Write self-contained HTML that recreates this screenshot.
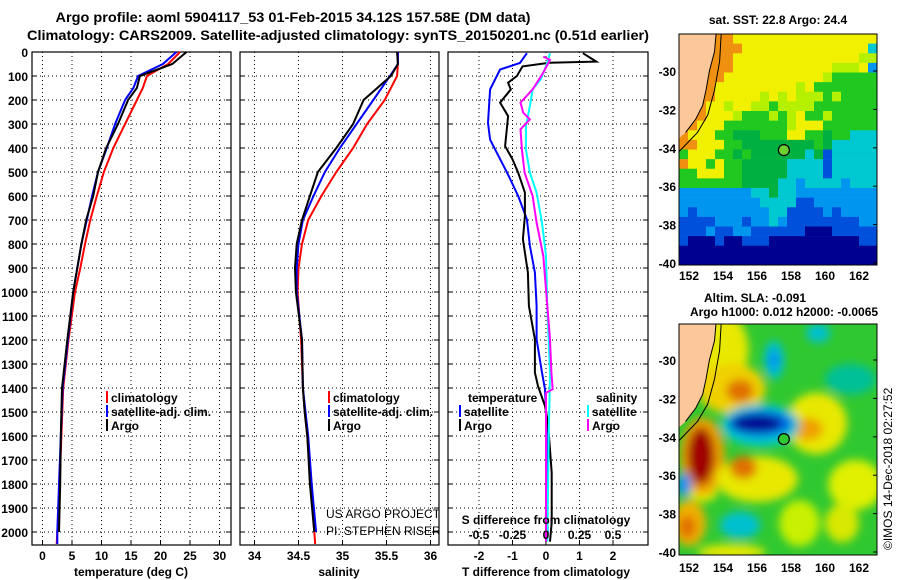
<!DOCTYPE html>
<html><head><meta charset="utf-8"><style>
html,body{margin:0;padding:0;background:#fff;}
svg{display:block;font-family:"Liberation Sans",sans-serif;}
.b{font-weight:bold;font-size:12px;}
</style></head><body>
<svg id="fig" width="900" height="580" viewBox="0 0 900 580">
<defs>
<filter id="blur" x="-50%" y="-50%" width="200%" height="200%"><feGaussianBlur stdDeviation="4.5"/></filter>
<clipPath id="clipSST"><rect x="679" y="34" width="198" height="231"/></clipPath>
<clipPath id="clipSLA"><rect x="679" y="324" width="198" height="231"/></clipPath>
<clipPath id="clipP2"><rect x="240" y="52" width="199" height="493"/></clipPath>
</defs>
<text x="293" y="22" text-anchor="middle" font-size="14" font-weight="bold" textLength="475" lengthAdjust="spacingAndGlyphs">Argo profile: aoml 5904117_53 01-Feb-2015 34.12S 157.58E (DM data)</text>
<text x="338" y="40" text-anchor="middle" font-size="14" font-weight="bold" textLength="622" lengthAdjust="spacingAndGlyphs">Climatology: CARS2009. Satellite-adjusted climatology: synTS_20150201.nc (0.51d earlier)</text>
<g id="axes"></g>
<g id="maps"></g>
<text transform="translate(892,550) rotate(-90)" font-size="12">©IMOS 14-Dec-2018 02:27:52</text>
</svg>
<script>
// ---- data ----
const tDepth = [0,50,100,150,200,300,400,500,600,700,800,900,1000,1200,1400,1600,1800,2000,2050];
const tClim  = [23.3,21.3,17.7,17.0,16.0,14.0,12.0,10.4,9.2,8.1,7.2,6.4,5.5,4.4,3.5,3.2,2.9,2.5,2.4];
const tSat   = [22.7,20.4,16.2,15.4,14.0,12.3,10.9,9.4,8.4,7.5,6.6,5.9,5.2,4.3,3.4,3.1,2.8,2.5,2.5];
const tArgo  = [24.4,22.0,16.5,16.0,14.5,12.8,10.8,9.4,8.6,7.4,6.6,5.9,5.2,4.2,3.3,3.1,3.0,2.8];
const sDepth = [0,50,100,200,300,400,500,600,700,800,900,1000,1200,1400,1500,1600,1800,2000,2050];
const sClim  = [35.63,35.63,35.62,35.48,35.28,35.12,34.93,34.76,34.61,34.54,34.50,34.49,34.53,34.55,34.57,34.60,34.64,34.68,34.69];
const sSat   = [35.63,35.63,35.54,35.35,35.16,34.97,34.80,34.67,34.55,34.50,34.48,34.48,34.54,34.55,34.58,34.61,34.65,34.70];
const sArgo  = [35.62,35.63,35.55,35.24,35.12,34.93,34.72,34.63,34.54,34.48,34.46,34.47,34.54,34.55,34.57,34.60,34.63,34.68];
const dtDepthSat = [5,46,73,156,295,365,406,503,600,697,808,919,1058,1197,1336,1405,1544,1753,2000];
const dtSat      = [-0.57,-0.78,-1.37,-1.67,-1.73,-1.67,-1.52,-1.16,-0.83,-0.57,-0.48,-0.33,-0.28,-0.28,-0.12,-0.03,0.02,0.03,0.05];
const dtDepthArgo = [5,40,45,60,100,128,156,211,267,309,392,447,503,586,683,780,919,1058,1197,1336,1392,1475,1544,1753,1961,2040];
const dtArgo      = [1.1,1.5,0.1,-0.7,-0.87,-1.13,-1.05,-1.37,-1.13,-1.16,-1.22,-1.0,-0.83,-0.63,-0.63,-0.69,-0.54,-0.51,-0.33,-0.33,-0.24,-0.03,0.06,0.17,0.17,0.12];
const dsDepthSat = [5,60,114,156,225,309,406,503,586,711,850,1058,1336,1614,2040];
const dsSat      = [0.03,0.0,-0.04,-0.10,-0.12,-0.15,-0.15,-0.12,-0.07,-0.03,0.0,0.01,0.03,0.02,0.01];
const dsDepthArgo = [19,33,86,156,211,253,281,322,406,503,600,711,850,989,1197,1336,1405,1420,1614,1961,2040];
const dsArgo      = [-0.02,0.03,-0.02,-0.10,-0.19,-0.17,-0.12,-0.19,-0.18,-0.16,-0.10,-0.07,-0.02,0.0,0.03,0.04,0.05,0.0,0.0,0.0,0.0];
const depthTicks = [0,100,200,300,400,500,600,700,800,900,1000,1100,1200,1300,1400,1500,1600,1700,1800,1900,2000];
const tTicks = [0,5,10,15,20,25,30];
const sTicks = [34,34.5,35,35.5,36];
const dtTicks = [-2,-1,0,1,2];
const dsTicks = [-0.5,-0.25,0,0.25,0.5];
const latTicks = [-30,-32,-34,-36,-38,-40];
const lonTicks = [152,154,156,158,160,162];
const floatPos = [157.58,-34.12];

const NS="http://www.w3.org/2000/svg";
function mk(tag,attrs,parent,text){const e=document.createElementNS(NS,tag);for(const k in attrs)e.setAttribute(k,attrs[k]);if(text!==undefined)e.textContent=text;parent.appendChild(e);return e;}
const axes=document.getElementById('axes');
const Y=d=>52+d*0.24;
const TOP=52,BOT=545;
const xT=v=>42.5+v*5.9;
const xS=v=>254.5+(v-34)*88;
const xDT=v=>546+v*33.5;
const xDS=v=>546+v*134;

function panel(x0,x1,name,xs,ticks,labels,title,tx){
  const g=mk('g',{},axes);
  
  
  depthTicks.forEach(d=>{const l=mk('line',{x1:x0,x2:x1,y1:Y(d),y2:Y(d),stroke:'#000','stroke-dasharray':'1,3','stroke-width':1},g);
    
    mk('line',{x1:x0,x2:x0+5,y1:Y(d),y2:Y(d),stroke:'#000'},g);mk('line',{x1:x1-5,x2:x1,y1:Y(d),y2:Y(d),stroke:'#000'},g);});
  ticks.forEach((t,i)=>{const x=xs(t);
    const l=mk('line',{x1:x,x2:x,y1:TOP,y2:BOT,stroke:'#000','stroke-dasharray':'1,3'},g);
    
    mk('line',{x1:x,x2:x,y1:BOT-5,y2:BOT,stroke:'#000'},g);
    const tl=mk('text',{x:x,y:560,'text-anchor':'middle',class:'b'},g,labels[i]);
    });
  const r=mk('rect',{x:x0,y:TOP,width:x1-x0,height:BOT-TOP,fill:'none',stroke:'#000','stroke-width':1.2},g);
  
  const tt=mk('text',{x:tx,y:576,'text-anchor':'middle',class:'b'},g,title);
  
  return g;
}
function line(g,xs,depths,vals,color,name,clip){
  const pts=vals.map((v,i)=>xs(v).toFixed(1)+','+Y(depths[i]).toFixed(1)).join(' ');
  const p=mk('polyline',{points:pts,fill:'none',stroke:color,'stroke-width':2},g);
  if(clip)p.setAttribute('clip-path',clip);
  
  
}
function legend(g,x,y,color,label){
  mk('rect',{x:x,y:y-11,width:2,height:12,fill:color},g);
  const t=mk('text',{x:x+5,y:y,class:'b'},g,label);
  
  
}
depthTicks.forEach(d=>{const t=mk('text',{x:28,y:Y(d)+5,'text-anchor':'end',class:'b'},axes,String(d));
  });

const g1=panel(32,231,'temperature-panel',xT,tTicks,tTicks.map(String),'temperature (deg C)',131);
line(g1,xT,tDepth,tClim,'#f00','climatology-temperature-line');
line(g1,xT,tDepth,tSat,'#00f','satellite-temperature-line');
line(g1,xT,tDepth.slice(0,tArgo.length),tArgo,'#000','argo-temperature-line');
legend(g1,106,402,'#f00','climatology');legend(g1,106,416,'#00f','satellite-adj. clim.');legend(g1,106,430,'#000','Argo');

const g2=panel(240,439,'salinity-panel',xS,sTicks,['34','34.5','35','35.5','36'],'salinity',339);
line(g2,xS,sDepth,sClim,'#f00','climatology-salinity-line');
line(g2,xS,sDepth,sSat,'#00f','satellite-salinity-line');
line(g2,xS,sDepth.slice(0,sArgo.length),sArgo,'#000','argo-salinity-line');
legend(g2,328,402,'#f00','climatology');legend(g2,328,416,'#00f','satellite-adj. clim.');legend(g2,328,430,'#000','Argo');
const c1=mk('text',{x:326,y:518,'font-size':12,'clip-path':'url(#clipP2)'},g2,'US ARGO PROJECT');

const c2=mk('text',{x:326,y:535,'font-size':12,'clip-path':'url(#clipP2)'},g2,'PI: STEPHEN RISER');


const g3=panel(448,648,'difference-panel',xDT,dtTicks,dtTicks.map(String),'T difference from climatology',546);
line(g3,xDT,dtDepthSat,dtSat,'#00f','satellite-temperature-difference-line');
line(g3,xDT,dtDepthArgo,dtArgo,'#000','argo-temperature-difference-line');
line(g3,xDS,dsDepthSat,dsSat,'#0ff','satellite-salinity-difference-line');
line(g3,xDS,dsDepthArgo,dsArgo,'#f0f','argo-salinity-difference-line');
const lt=mk('text',{x:468,y:402,class:'b'},g3,'temperature');
const ls=mk('text',{x:596,y:402,class:'b'},g3,'salinity');
legend(g3,459,416,'#00f','satellite');legend(g3,459,430,'#000','Argo');
legend(g3,587,416,'#0ff','satellite');legend(g3,587,430,'#f0f','Argo');
const sdt=mk('text',{x:546,y:524,'text-anchor':'middle',class:'b'},g3,'S difference from climatology');

dsTicks.forEach(t=>{const e=mk('text',{x:xDS(t),y:539,'text-anchor':'middle',class:'b'},g3,String(t));
  });

// ---- maps ----
const maps=document.getElementById('maps');
const mx=lon=>689+(lon-152)*17;
const myTop=lat=>71+(-30-lat)*19.2;
const myBot=lat=>360+(-30-lat)*19.2;
const sstRows=[
"LLLOOOYYYYYYYYYYYYYYYY",
"LLLOOOOYYYYYYYYYYYYYYC",
"LLLOOOYYYYYYYYYYYYYYyy",
"LLLOOOYYYYYYYYYYYyyyYB",
"LLLOOYYYYYYYYYYYyGGGGG",
"LLOOYYYYYYYYYyYGGGGGGG",
"LLOOYYYYYyYyYyyyGyGGGG",
"LGOYYyYYyyGyyyyGGGGGGG",
"LOOYYYyGGGyGyYGGyGGGGG",
"OOYYYGGGGGGGyYYYGGGGGG",
"OYYYGGgggGGGYYGGgGGCCC",
"OOYYYGGggggggggGgCCCCC",
"GYYYGGgGggggggCgbCCCCC",
"OYYGYGGgggggCCCCbCCCCC",
"GGYYYGGgggggCCCCbCCCCC",
"GGGGGGGggggCCBCCCCBCCC",
"BBBBBBBBCCgCCBBBBBBBBB",
"BBBBBBBBBCCCCbbBBBBBBB",
"BbBBBBBBBBCCbbbbBbBBBB",
"bbbbBBBbBBCBbbbbbbbbBB",
"bbbBbbBBbbbbbbNNNbbbbb",
"bNNNbNNbbbNNNNNNNNNNbb",
"NNNNNNNNNNNNNNNNNNNNNN",
"NNNNNNNNNNNNNNNNNNNNNN"];
const col={O:'#f09010',Y:'#f0f000',y:'#b4f000',G:'#20c820',g:'#00b040',C:'#00c8d0',B:'#0096f0',b:'#0050dc',N:'#000090',L:'#20c820'};
function mapFrame(name){
  const g=mk('g',{},maps);
  
  
  return g;
}
const gs=mapFrame('sst-map');
const cs=mk('g',{'clip-path':'url(#clipSST)'},gs);
sstRows.forEach((r,ri)=>{[...r].forEach((ch,ci)=>{mk('rect',{x:679+ci*9,y:34+ri*9.625,width:9.3,height:9.9,fill:col[ch]},cs);});});
function land(g,yf){
  const pts=[[151.3,-28],[153.6,-28],[153.5,-29],[153.2,-30],[153.0,-31],[152.8,-31.8],[152.4,-32.5],[151.8,-33.2],[151.3,-33.6]];
  mk('polygon',{points:pts.map(p=>mx(p[0])+','+yf(p[1])).join(' '),fill:'#fcc89a'},g);
  mk('polyline',{points:pts.slice(1,-1).map(p=>mx(p[0])+','+yf(p[1])).join(' '),fill:'none',stroke:'#000'},g);
  const shelf=[[153.9,-28],[153.8,-29.5],[153.5,-31],[153.1,-32.3],[152.5,-33.2],[151.3,-34.3]];
  mk('polyline',{points:shelf.map(p=>mx(p[0])+','+yf(p[1])).join(' '),fill:'none',stroke:'#000'},g);
}
land(cs,myTop);
const f1=mk('circle',{cx:mx(floatPos[0]),cy:myTop(floatPos[1]),r:5.5,fill:'#6cd030',stroke:'#000','stroke-width':1.2},gs);

mk('rect',{x:679,y:34,width:198,height:231,fill:'none',stroke:'#000'},gs);

const gb=mapFrame('sla-map');
const cb=mk('g',{'clip-path':'url(#clipSLA)'},gb);
mk('rect',{x:679,y:324,width:198,height:231,fill:'#30c830'},cb);
const bl=mk('g',{filter:'url(#blur)'},cb);
const blobs=[
[153.5,-29.5,2.0,2.2,'#e8e800'],[154.5,-31.5,2.0,1.3,'#f0d000'],[155,-31.6,0.8,0.6,'#e07000'],
[152.8,-36.8,0.9,0.6,'#e8e800'],
[159.5,-33.3,1.8,1.6,'#e8e800'],[159,-33.6,0.9,0.6,'#f0a000'],
[152.8,-35,1.3,2.0,'#f0a000'],[152.7,-35,0.8,1.5,'#a00000'],
[156,-36.2,2.4,1.2,'#e8e800'],[155.2,-35.6,0.8,0.6,'#e07000'],
[161.8,-36.5,1.6,1.3,'#e0f000'],[152,-38.5,1.0,1.2,'#f0b000'],[151.9,-38.7,0.5,0.6,'#e07000'],[158.5,-38.5,1.2,1.2,'#c8f000'],
[156.2,-33.4,2.3,1.1,'#00c8d0'],[156.2,-33.3,1.9,0.7,'#0070e8'],[156.0,-33.3,1.5,0.45,'#000090'],
[157,-30,0.6,1.0,'#00c0d0'],[157,-30,0.3,0.5,'#0090f0'],[159.6,-28.6,0.7,0.5,'#00c0d0'],
[161.5,-31,1.5,0.8,'#00c098'],[155,-38.6,1.2,0.7,'#00c0d0'],[151.7,-36.5,0.45,0.6,'#0090f0'],
[154.5,-40,2,0.4,'#e8e800'],[161,-38.5,1.0,1.0,'#d8e800']];
blobs.forEach(b=>mk('ellipse',{cx:mx(b[0]),cy:myBot(b[1]),rx:b[2]*17,ry:b[3]*19.2,fill:b[4]},bl));
land(cb,myBot);
const f2=mk('circle',{cx:mx(floatPos[0]),cy:myBot(floatPos[1]),r:5.5,fill:'#30c830',stroke:'#000','stroke-width':1.2},gb);

mk('rect',{x:679,y:324,width:198,height:231,fill:'none',stroke:'#000'},gb);

[[myTop,280],[myBot,572]].forEach(([yf,ly])=>{
  latTicks.forEach(l=>{const t=mk('text',{x:676,y:yf(l)+5,'text-anchor':'end',class:'b'},maps,String(l));
    
    mk('line',{x1:873,x2:877,y1:yf(l),y2:yf(l),stroke:'#000'},maps);});
  lonTicks.forEach(l=>{const t=mk('text',{x:mx(l),y:ly,'text-anchor':'middle',class:'b'},maps,String(l));
    });
});
const m1=mk('text',{x:778,y:24,'text-anchor':'middle',class:'b'},maps,'sat. SST: 22.8 Argo: 24.4');

const m2=mk('text',{x:755,y:302,'text-anchor':'middle',class:'b'},maps,'Altim. SLA: -0.091');

const m3=mk('text',{x:784,y:316,'text-anchor':'middle',class:'b'},maps,'Argo h1000: 0.012 h2000: -0.0065');

</script>
</body></html>
